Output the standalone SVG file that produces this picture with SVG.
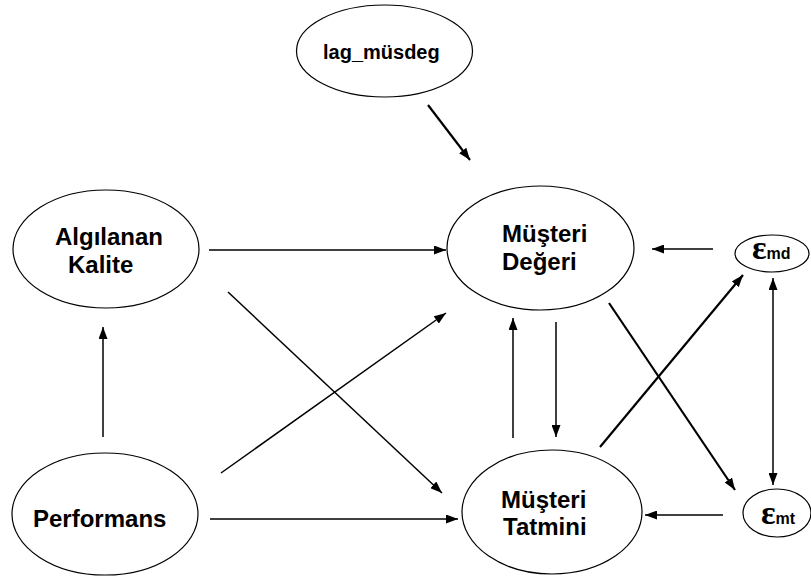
<svg xmlns="http://www.w3.org/2000/svg" width="811" height="581" viewBox="0 0 811 581">
<style>
.n{fill:#fff;stroke:#000;stroke-width:1.2}
.t{font-family:"Liberation Sans",Arial,sans-serif;font-weight:bold;font-size:24px;fill:#000}
.e{font-family:"Liberation Serif","Times New Roman",serif;font-weight:bold;font-size:34px;fill:#000}
.s{font-family:"Liberation Sans",Arial,sans-serif;font-weight:bold;font-size:16px;fill:#000}
.c{stroke:#000;stroke-width:1.5;fill:none}
.k{stroke-width:2.2}
</style>
<defs>
<marker id="a" viewBox="0 0 12 9" refX="12" refY="4.5" markerWidth="12" markerHeight="9" markerUnits="userSpaceOnUse" orient="auto-start-reverse">
<path d="M0,0 L12,4.5 L0,9 z" fill="#000"/>
</marker>
</defs>
<rect width="811" height="581" fill="#fff"/>
<g id="connectors">
<line class="c k" x1="428" y1="105" x2="470" y2="160" marker-end="url(#a)"/>
<line class="c" x1="209" y1="250" x2="446" y2="250" marker-end="url(#a)"/>
<line class="c" x1="210" y1="519" x2="458" y2="519" marker-end="url(#a)"/>
<line class="c" x1="228" y1="292" x2="442" y2="493" marker-end="url(#a)"/>
<line class="c" x1="221" y1="473" x2="446" y2="313" marker-end="url(#a)"/>
<line class="c" x1="513" y1="438" x2="513" y2="318" marker-end="url(#a)"/>
<line class="c" x1="556" y1="322" x2="556" y2="437" marker-end="url(#a)"/>
<line class="c" x1="103" y1="437" x2="103" y2="327" marker-end="url(#a)"/>
<line class="c" x1="713" y1="249" x2="652" y2="249" marker-end="url(#a)"/>
<line class="c" x1="723" y1="515" x2="645" y2="515" marker-end="url(#a)"/>
<line class="c k" x1="609" y1="303" x2="735" y2="490" marker-end="url(#a)"/>
<line class="c k" x1="600" y1="447" x2="743" y2="275" marker-end="url(#a)"/>
<line class="c" x1="773" y1="278" x2="773" y2="485" marker-start="url(#a)" marker-end="url(#a)"/>
</g>
<g id="lag">
<ellipse class="n" cx="384.5" cy="51" rx="88" ry="46"/>
<text class="t" style="font-size:20px" x="323" y="59">lag_müsdeg</text>
</g>
<g id="algilanan">
<ellipse class="n" cx="106" cy="249" rx="93" ry="59"/>
<text class="t" x="55" y="245">Algılanan</text>
<text class="t" x="68" y="273">Kalite</text>
</g>
<g id="degeri">
<ellipse class="n" cx="540.5" cy="248" rx="93.5" ry="62"/>
<text class="t" x="502" y="242">Müşteri</text>
<text class="t" x="502" y="270">Değeri</text>
</g>
<g id="tatmini">
<ellipse class="n" cx="552" cy="512" rx="90" ry="62"/>
<text class="t" x="501" y="508">Müşteri</text>
<text class="t" x="503" y="535">Tatmini</text>
</g>
<g id="performans">
<ellipse class="n" cx="105" cy="514" rx="93" ry="61"/>
<text class="t" x="33" y="527">Performans</text>
</g>
<g id="emd">
<ellipse class="n" cx="772" cy="253.5" rx="37" ry="18.5"/>
<text x="752" y="259"><tspan class="e">ε</tspan><tspan class="s">md</tspan></text>
</g>
<g id="emt">
<ellipse class="n" cx="777" cy="513" rx="34" ry="24"/>
<text x="761" y="524"><tspan class="e">ε</tspan><tspan class="s">mt</tspan></text>
</g>
</svg>
